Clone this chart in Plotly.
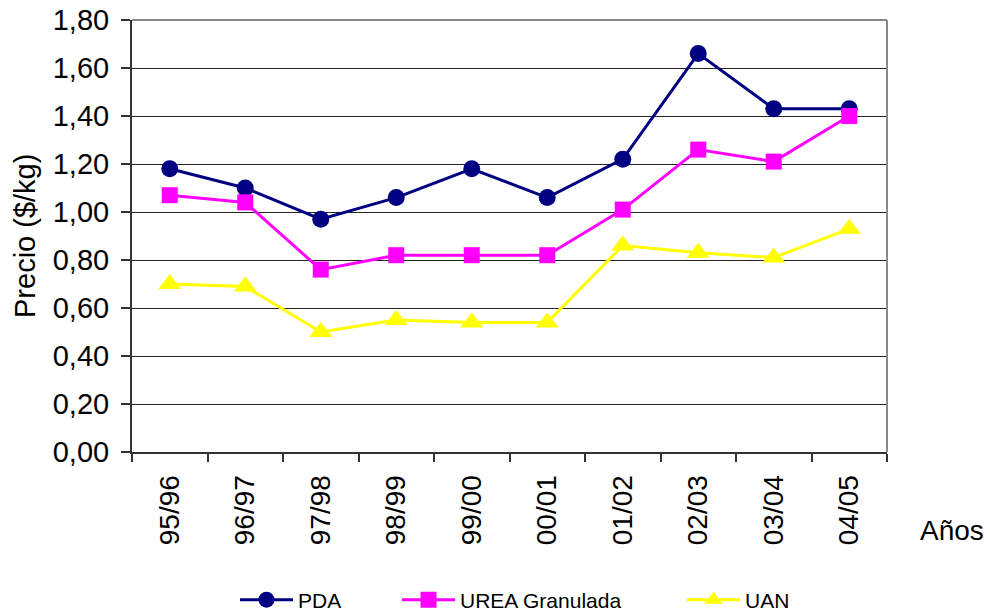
import plotly.graph_objects as go

campanas = ["95/96", "96/97", "97/98", "98/99", "99/00", "00/01", "01/02", "02/03", "03/04", "04/05"]
pda = [1.18, 1.10, 0.97, 1.06, 1.18, 1.06, 1.22, 1.66, 1.43, 1.43]
urea = [1.07, 1.04, 0.76, 0.82, 0.82, 0.82, 1.01, 1.26, 1.21, 1.40]
uan = [0.70, 0.69, 0.50, 0.55, 0.54, 0.54, 0.86, 0.83, 0.81, 0.93]
y_ticks = [0, 0.2, 0.4, 0.6, 0.8, 1.0, 1.2, 1.4, 1.6, 1.8]
y_labels = ["0,00", "0,20", "0,40", "0,60", "0,80", "1,00", "1,20", "1,40", "1,60", "1,80"]

FONT = "Liberation Sans, Arial, sans-serif"
W, H = 990, 613

fig = go.Figure()
fig.add_trace(go.Scatter(x=campanas, y=pda, name="PDA", mode="lines+markers",
                         line=dict(color="#000080", width=3), legend="legend",
                         marker=dict(symbol="circle", size=17, color="#000080")))
fig.add_trace(go.Scatter(x=campanas, y=urea, name="UREA Granulada", mode="lines+markers",
                         line=dict(color="#FF00FF", width=3), legend="legend2",
                         marker=dict(symbol="square", size=16, color="#FF00FF")))
fig.add_trace(go.Scatter(x=campanas, y=uan, name="UAN", mode="lines+markers",
                         line=dict(color="#FFFF00", width=3), legend="legend3",
                         marker=dict(symbol="triangle-up", size=20, color="#FFFF00")))

def leg(left_px):
    return dict(orientation="h", xref="container", yref="container", x=left_px / W,
                xanchor="left", y=(H - 600) / H, yanchor="middle", font=dict(size=21),
                itemwidth=53, bgcolor="rgba(0,0,0,0)")

fig.update_layout(
    width=W, height=H,
    margin=dict(l=132, r=103, t=20, b=161),
    paper_bgcolor="white", plot_bgcolor="white",
    font=dict(family=FONT, color="black", size=28),
    showlegend=True,
    legend=leg(235), legend2=leg(397), legend3=leg(682),
    xaxis=dict(type="category", tickson="boundaries", ticks="outside", ticklen=8,
               tickcolor="#333", tickwidth=1.5, tickangle=-90, automargin=False,
               showline=True, linecolor="#333", linewidth=2,
               showgrid=False, tickfont=dict(size=28), ticklabelstandoff=10,
               range=[-0.5, 9.5]),
    yaxis=dict(range=[0, 1.8], tickvals=y_ticks, ticktext=y_labels, automargin=False,
               ticks="outside", ticklen=9, tickcolor="#333", tickwidth=1.5,
               showline=True, linecolor="#333", linewidth=2,
               showgrid=True, gridcolor="#222", gridwidth=1,
               zeroline=False, tickfont=dict(size=29), ticklabelstandoff=6,
               ticklabeloverflow="allow"),
    shapes=[
        dict(type="line", xref="paper", yref="paper", x0=0, x1=1, y0=1, y1=1,
             line=dict(color="#888", width=2)),
        dict(type="line", xref="paper", yref="paper", x0=1, x1=1, y0=0, y1=1,
             line=dict(color="#888", width=2)),
    ],
    annotations=[
        dict(text="Precio ($/kg)", xref="paper", yref="paper", x=(25 - 132) / 755, y=0.5,
             xanchor="center", yanchor="middle", textangle=-90, showarrow=False,
             font=dict(size=29)),
        dict(text="Años", xref="paper", yref="paper", x=(952 - 132) / 755, y=(452 - 530) / 432,
             xanchor="center", yanchor="middle", showarrow=False, font=dict(size=28)),
    ],
)

fig.write_html("out.html", config={"displayModeBar": False},
               post_script="document.body.style.margin='0';")
